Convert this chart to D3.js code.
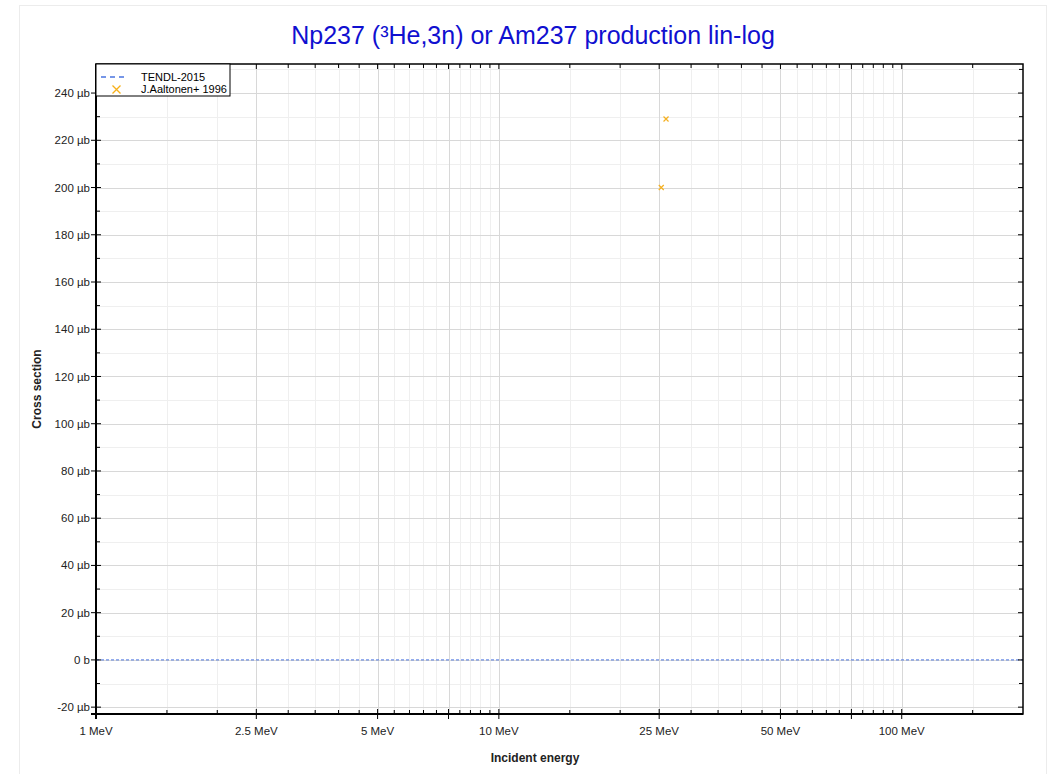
<!DOCTYPE html>
<html><head><meta charset="utf-8">
<script src="https://cdn.jsdelivr.net/npm/d3@7"></script>
<style>body{margin:0;background:#fff;font-family:"Liberation Sans",Arial,sans-serif;}</style>
</head><body><svg id="c" width="1055" height="774"></svg>
<script>
// ---- data ----
const titleText = "Np237 (\u00B3He,3n) or Am237 production lin-log";
const seriesNames = ["TENDL-2015", "J.Aaltonen+ 1996"];
const tendlEnergy = [1, 200];          // MeV
const tendlXs = [0, 0];                // barn
const expEnergy = [25.3, 26.0];        // MeV
const expXs = [200e-6, 229e-6];        // barn
const xLabelTicks = [1, 2.5, 5, 10, 25, 50, 100];
const xLabelText = ["1 MeV", "2.5 MeV", "5 MeV", "10 MeV", "25 MeV", "50 MeV", "100 MeV"];
const xMajorTicks = [1, 2.5, 5, 7.5, 10, 25, 50, 75, 100];
const xMinorTicks = [1.5, 2, 3, 3.5, 4, 4.5, 5.5, 6, 6.5, 7, 8, 8.5, 9, 9.5,
                     15, 20, 30, 35, 40, 45, 55, 60, 65, 70, 80, 85, 90, 95, 150];
const yMajorTicks = [-20e-6, 0, 20e-6, 40e-6, 60e-6, 80e-6, 100e-6, 120e-6, 140e-6, 160e-6, 180e-6, 200e-6, 220e-6, 240e-6];
const yLabelText = ["-20 \u00B5b", "0 b", "20 \u00B5b", "40 \u00B5b", "60 \u00B5b", "80 \u00B5b", "100 \u00B5b", "120 \u00B5b", "140 \u00B5b", "160 \u00B5b", "180 \u00B5b", "200 \u00B5b", "220 \u00B5b", "240 \u00B5b"];
const yMinorTicks = [-10e-6, 10e-6, 30e-6, 50e-6, 70e-6, 90e-6, 110e-6, 130e-6, 150e-6, 170e-6, 190e-6, 210e-6, 230e-6, 250e-6];
const xDomain = [1, 200];
const yDomain = [-22.9e-6, 252.3e-6];

// ---- layout ----
const svg = d3.select("#c");
const L = 96, R = 1023, T = 64, B = 714;
const x = d3.scaleLog().domain(xDomain).range([L, R]);
const y = d3.scaleLinear().domain(yDomain).range([B, T]);

// figure frame
svg.append("rect").attr("x", 19.5).attr("y", 5.5).attr("width", 1027).attr("height", 800)
  .attr("fill", "#fff").attr("stroke", "#ececec").attr("stroke-width", 1);

// title
svg.append("text").attr("x", 533).attr("y", 44).attr("text-anchor", "middle")
  .attr("font-size", 25).attr("fill", "#1010d0").text(titleText);

const g = svg.append("g");
// gridlines
g.selectAll(".xmin").data(xMinorTicks).join("line")
  .attr("x1", d => Math.round(x(d)) + 0.5).attr("x2", d => Math.round(x(d)) + 0.5)
  .attr("y1", T).attr("y2", B).attr("stroke", "#efefef");
g.selectAll(".ymin").data(yMinorTicks.filter(d => y(d) > T)).join("line")
  .attr("y1", d => Math.round(y(d)) + 0.5).attr("y2", d => Math.round(y(d)) + 0.5)
  .attr("x1", L).attr("x2", R).attr("stroke", "#efefef");
g.selectAll(".xmaj").data(xMajorTicks.slice(1)).join("line")
  .attr("x1", d => Math.round(x(d)) + 0.5).attr("x2", d => Math.round(x(d)) + 0.5)
  .attr("y1", T).attr("y2", B).attr("stroke", "#d8d8d8");
g.selectAll(".ymaj").data(yMajorTicks).join("line")
  .attr("y1", d => Math.round(y(d)) + 0.5).attr("y2", d => Math.round(y(d)) + 0.5)
  .attr("x1", L).attr("x2", R).attr("stroke", "#d8d8d8");

// TENDL line
const line = d3.line().x((d, i) => x(tendlEnergy[i])).y(d => y(d));
g.append("path").datum(tendlXs).attr("d", line).attr("fill", "none")
  .attr("stroke", "#4a74e0").attr("stroke-width", 1).attr("stroke-dasharray", "3,2");

// experimental points
const sz = 2.5;
const pts = g.selectAll(".pt").data(expEnergy).join("g")
  .attr("transform", (d, i) => `translate(${x(d)},${y(expXs[i])})`);
pts.append("path").attr("d", `M${-sz},${-sz}L${sz},${sz}M${-sz},${sz}L${sz},${-sz}`)
  .attr("stroke", "#f5b020").attr("stroke-width", 1.2);

// ticks
const tk = svg.append("g").attr("stroke", "#000");
tk.selectAll(".xbM").data(xMajorTicks.slice(1)).join("line")
  .attr("x1", d => x(d)).attr("x2", d => x(d)).attr("y1", B - 5).attr("y2", B + 5).attr("stroke-width", 1);
tk.selectAll(".xbm").data(xMinorTicks).join("line")
  .attr("x1", d => x(d)).attr("x2", d => x(d)).attr("y1", B - 4).attr("y2", B).attr("stroke-width", 1);
tk.selectAll(".xtM").data(xMajorTicks.slice(1)).join("line")
  .attr("x1", d => x(d)).attr("x2", d => x(d)).attr("y1", T).attr("y2", T + 5).attr("stroke-width", 1);
tk.selectAll(".xtm").data(xMinorTicks).join("line")
  .attr("x1", d => x(d)).attr("x2", d => x(d)).attr("y1", T).attr("y2", T + 4).attr("stroke-width", 1);
tk.selectAll(".ylM").data(yMajorTicks).join("line")
  .attr("y1", d => y(d)).attr("y2", d => y(d)).attr("x1", L - 5).attr("x2", L + 5).attr("stroke-width", 1);
tk.selectAll(".ylm").data(yMinorTicks).join("line")
  .attr("y1", d => y(d)).attr("y2", d => y(d)).attr("x1", L).attr("x2", L + 4).attr("stroke-width", 1);
tk.selectAll(".yrM").data(yMajorTicks).join("line")
  .attr("y1", d => y(d)).attr("y2", d => y(d)).attr("x1", R - 5).attr("x2", R).attr("stroke-width", 1);
tk.selectAll(".yrm").data(yMinorTicks).join("line")
  .attr("y1", d => y(d)).attr("y2", d => y(d)).attr("x1", R - 4).attr("x2", R).attr("stroke-width", 1);

// frame
svg.append("rect").attr("x", L).attr("y", T).attr("width", R - L).attr("height", B - T)
  .attr("fill", "none").attr("stroke", "#000").attr("stroke-width", 1.5);
svg.append("line").attr("x1", L).attr("x2", L).attr("y1", T).attr("y2", B + 5).attr("stroke", "#000").attr("stroke-width", 2);
svg.append("line").attr("x1", L - 5).attr("x2", R).attr("y1", B).attr("y2", B).attr("stroke", "#000").attr("stroke-width", 2);

// tick labels
svg.selectAll(".xl").data(xLabelTicks).join("text")
  .attr("x", d => x(d)).attr("y", 735).attr("text-anchor", "middle")
  .attr("font-size", 11.5).attr("fill", "#222").text((d, i) => xLabelText[i]);
svg.selectAll(".yl").data(yMajorTicks).join("text")
  .attr("x", 90).attr("y", d => y(d)).attr("dy", "0.35em").attr("text-anchor", "end")
  .attr("font-size", 11.5).attr("fill", "#222").text((d, i) => yLabelText[i]);

// axis titles
svg.append("text").attr("x", 535).attr("y", 762).attr("text-anchor", "middle")
  .attr("font-size", 12).attr("font-weight", "bold").attr("fill", "#222").text("Incident energy");
svg.append("text").attr("transform", "translate(41,389) rotate(-90)").attr("text-anchor", "middle")
  .attr("font-size", 12).attr("font-weight", "bold").attr("fill", "#222").text("Cross section");

// legend
const lg = svg.append("g");
lg.append("rect").attr("x", 96).attr("y", 64).attr("width", 134).attr("height", 32)
  .attr("fill", "#fff").attr("stroke", "#000").attr("stroke-width", 1);
lg.append("line").attr("x1", 101).attr("x2", 128).attr("y1", 77).attr("y2", 77)
  .attr("stroke", "#4a74e0").attr("stroke-width", 1.5).attr("stroke-dasharray", "5,4");
lg.append("path").attr("transform", "translate(116.5,89.5)")
  .attr("d", "M-4,-4L4,4M-4,4L4,-4").attr("stroke", "#f7b019").attr("stroke-width", 1.3);
lg.selectAll(".lt").data(seriesNames).join("text")
  .attr("x", 141).attr("y", (d, i) => 77 + i * 12.5).attr("dy", "0.35em")
  .attr("font-size", 11).attr("fill", "#000").text(d => d);
</script></body></html>
